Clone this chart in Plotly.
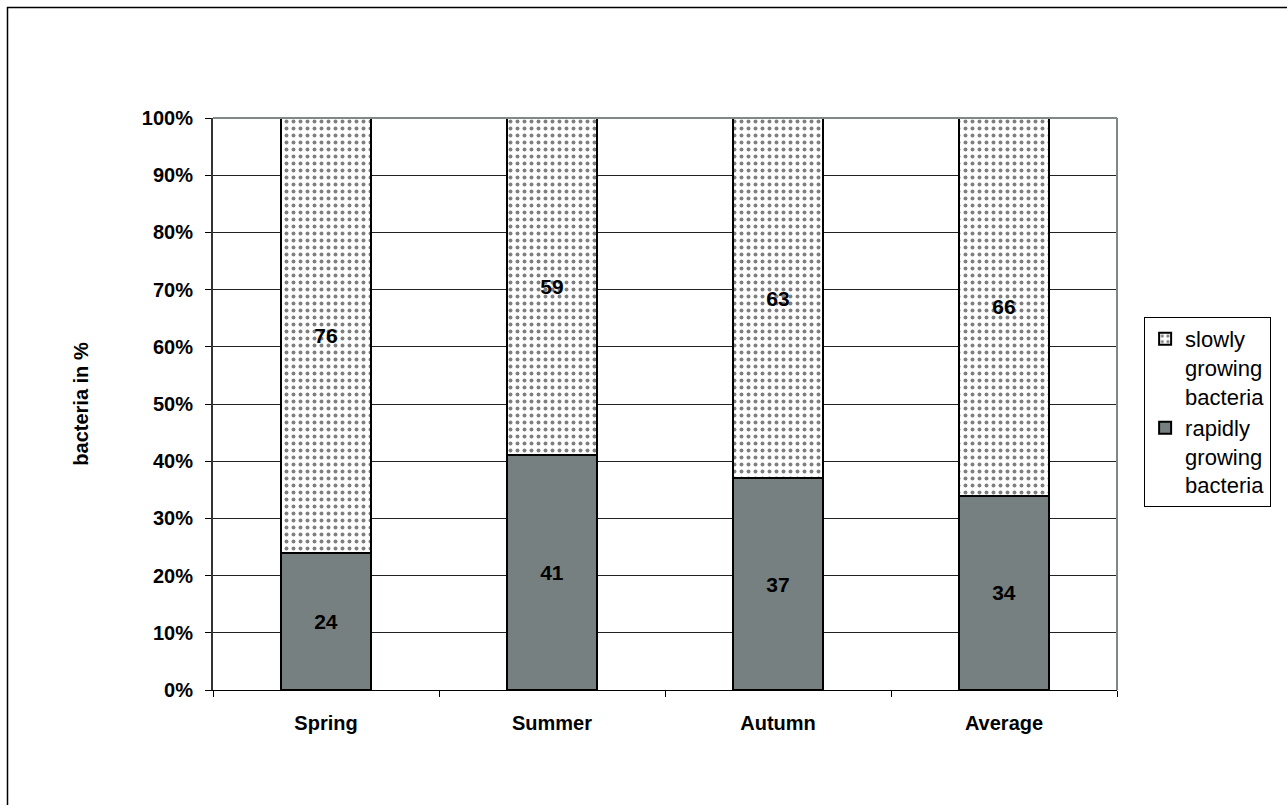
import plotly.graph_objects as go

categories = ["Spring", "Summer", "Autumn", "Average"]
rapidly = [24, 41, 37, 34]
slowly = [76, 59, 63, 66]
y_ticks = [0, 10, 20, 30, 40, 50, 60, 70, 80, 90, 100]
y_tick_labels = [f"{v}%" for v in y_ticks]

FONT = "Liberation Sans, Arial, sans-serif"

fig = go.Figure()
fig.add_trace(go.Bar(
    x=categories, y=rapidly, name="rapidly<br>growing<br>bacteria", legendgroup="b",
    marker=dict(color="#778080", line=dict(color="black", width=2)),
    text=[str(v) for v in rapidly], textposition="inside", insidetextanchor="middle",
    textfont=dict(family=FONT, size=21, color="black", weight="bold"),
    width=0.4,
))
fig.add_trace(go.Bar(
    x=categories, y=slowly, name="slowly<br>growing<br>bacteria", legendgroup="a",
    marker=dict(color="white", line=dict(color="black", width=2),
                pattern=dict(shape=".", fgcolor="black", bgcolor="white", size=7, solidity=0.25)),
    text=[str(v) for v in slowly], textposition="inside", insidetextanchor="middle",
    textfont=dict(family=FONT, size=21, color="black", weight="bold"),
    width=0.4,
))

fig.update_layout(
    barmode="stack",
    width=1287, height=805,
    margin=dict(l=213, r=170, t=118, b=115),
    paper_bgcolor="white", plot_bgcolor="white",
    font=dict(family=FONT, color="black"),
    showlegend=True,
    legend=dict(
        x=1.03, y=0.652, xanchor="left", yanchor="top",
        traceorder="reversed", valign="top",
        bordercolor="black", borderwidth=1,
        font=dict(family=FONT, size=22, color="black"),
        tracegroupgap=12, itemwidth=30,
    ),
    uniformtext=dict(mode=False),
)

fig.update_xaxes(
    type="category", showline=True, linecolor="black", linewidth=1,
    ticks="outside", tickson="boundaries", ticklen=6, tickcolor="black",
    ticklabelstandoff=15,
    tickfont=dict(family=FONT, size=20, color="black", weight="bold"),
    showgrid=False, zeroline=False,
)
fig.update_yaxes(
    range=[0, 100], tickvals=y_ticks, ticktext=y_tick_labels,
    showline=True, linecolor="#333333", linewidth=2,
    ticks="outside", ticklen=6, tickcolor="black",
    ticklabelstandoff=8,
    tickfont=dict(family=FONT, size=20, color="black", weight="bold"),
    showgrid=True, gridcolor="#222222", gridwidth=1, zeroline=False,
    title=dict(text="bacteria in %", font=dict(family=FONT, size=20, color="black", weight="bold"), standoff=48),
)

# plot area top and right edges (gray)
fig.add_shape(type="line", xref="paper", yref="paper", x0=0, x1=1, y0=1, y1=1,
              line=dict(color="#808888", width=2), layer="above")
fig.add_shape(type="line", xref="paper", yref="paper", x0=1, x1=1, y0=0, y1=1,
              line=dict(color="#808888", width=2), layer="above")
# outer chart border
fig.add_shape(type="rect", xref="paper", yref="paper",
              x0=(7.5 - 213) / 904, x1=(1300 - 213) / 904,
              y0=(690 - 820) / 572, y1=(690 - 7.5) / 572,
              line=dict(color="black", width=1.5), fillcolor="rgba(0,0,0,0)", layer="below")

fig.write_html("out.html")
